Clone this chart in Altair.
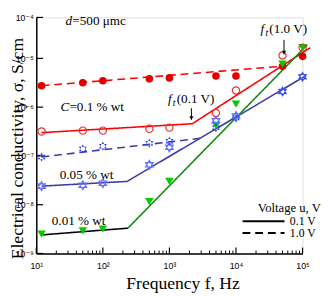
import altair as alt
import pandas as pd

# ---------------- data ----------------
freq = [12, 50, 100, 500, 1000, 5000, 10000, 50000, 100000]

# C = 0.1 % wt
red_1V = [2.75e-6, 3.16e-6, 3.47e-6, 3.8e-6, 3.98e-6, 4.37e-6, 4.37e-6, 6.9e-6, 1.12e-5]
red_01V = [3.16e-7, 3.3e-7, 3.3e-7, 3.6e-7, 3.8e-7, 7.6e-7, 2.2e-6, 1.18e-5, 1.83e-5]
# C = 0.05 % wt
blue_1V = [9.5e-8, 1.38e-7, 1.58e-7, 1.82e-7, 2.0e-7, 3.8e-7, 6.0e-7, 2.1e-6, 4.2e-6]
blue_01V = [2.4e-8, 2.5e-8, 2.75e-8, 6.6e-8, 1.5e-7, 5.25e-7, 6.6e-7, 2.1e-6, 4.2e-6]
# C = 0.01 % wt
green_01V = [2.5e-9, 2.9e-9, 3.16e-9, 1.15e-8, 3.0e-8, 4.2e-7, 1.15e-6, 7.6e-6, 1.83e-5]

# fitted lines (break points)
fit_line = ["red_s", "red_s", "red_s", "red_d", "red_d",
            "blue_s", "blue_s", "blue_s", "blue_d", "blue_d",
            "black", "black", "green", "green"]
fit_volt = ["0.1 V", "0.1 V", "0.1 V", "1.0 V", "1.0 V",
            "0.1 V", "0.1 V", "0.1 V", "1.0 V", "1.0 V",
            "0.1 V", "0.1 V", "0.1 V", "0.1 V"]
fit_f = [12, 2210, 131000, 12, 49000,
         12, 231, 110700, 12, 2900,
         12, 238, 238, 118000]
fit_s = [3.0e-7, 4.57e-7, 1.83e-5, 2.75e-6, 6.9e-6,
         2.4e-8, 3.0e-8, 4.37e-6, 9.5e-8, 2.3e-7,
         2.4e-9, 3.3e-9, 3.3e-9, 2.15e-5]
line_ids = ["red_s", "red_d", "blue_s", "blue_d", "black", "green"]
line_colors = ["#ff0000", "#ff0000", "#3c3ca8", "#3c3ca8", "#000000", "#118a11"]

# annotations
ann_text = ["d", "=500 μmc", "C", "=0.1 % wt", "0.05 % wt", "0.01 % wt",
            "f", "t", "(0.1 V)", "f", "t", "(1.0 V)"]
ann_f = [27.5, 27.5, 23.2, 23.2, 22.5, 17.1, 950, 950, 950, 23400, 23400, 23400]
ann_s = [8.0e-5, 8.0e-5, 1.0e-6, 1.0e-6, 4.0e-8, 4.6e-9,
         1.45e-6, 1.45e-6, 1.45e-6, 5.2e-5, 5.2e-5, 5.2e-5]
ann_style = ["it", "rm", "it", "rm", "rm", "rm", "it", "sub", "rm", "it", "sub", "rm"]
ann_dx = [0, 7, 0, 9, 0, 0, 0, 5, 9, 0, 5, 9]

arrow_f = [2140, 2140, 52700, 52700]
arrow_s = [9.5e-7, 5.5e-7, 2.83e-5, 1.245e-5]
arrow_id = ["a1", "a1", "a2", "a2"]
head_f = [2140, 52700]
head_s = [6.0e-7, 1.39e-5]

x_major = [10, 100, 1000, 10000, 100000]
x_minor = [m * d for d in [10, 100, 1000, 10000] for m in range(2, 10)]
y_major = [1e-9, 1e-8, 1e-7, 1e-6, 1e-5, 1e-4]

# ---------------- tables ----------------
def series(vals):
    return pd.DataFrame({"f": freq, "s": vals})

fit_df = pd.DataFrame({"line": fit_line, "volt": fit_volt, "f": fit_f, "s": fit_s,
                       "k": list(range(len(fit_f)))})
ann_df = pd.DataFrame({"text": ann_text, "f": ann_f, "s": ann_s,
                       "style": ann_style, "dx": ann_dx})
arrow_df = pd.DataFrame({"f": arrow_f, "s": arrow_s, "id": arrow_id})
head_df = pd.DataFrame({"f": head_f, "s": head_s})

W, H = 273, 242
SERIF = "Liberation Serif"
SANS = "Liberation Sans, DejaVu Sans"

xscale = alt.Scale(type="log", domain=[10, 100000], nice=False)
yscale = alt.Scale(type="log", domain=[1e-9, 1e-5, 1e-4], range=[H, 42, 0], nice=False)

xaxis = alt.Axis(
    values=x_major,
    labelExpr="'10' + ['⁰','¹','²','³','⁴','⁵','⁶'][round(log(datum.value)/LN10)]",
    ticks=False, grid=False, domainColor="black", domainWidth=1.5,
    labelFont=SANS, labelFontSize=9, labelColor="black", labelPadding=8,
    labelFlush=False,
    title="Frequency f, Hz", titleFont=SERIF, titleFontSize=18,
    titleFontWeight="normal", titleColor="black",
    titleX=150, titleY=31, titleBaseline="middle", titleAlign="center",
)
yaxis = alt.Axis(
    values=y_major,
    labelExpr="'10⁻' + ['⁰','¹','²','³','⁴','⁵','⁶','⁷','⁸','⁹'][-round(log(datum.value)/LN10)]",
    ticks=False, grid=False, domainColor="black", domainWidth=1.5,
    labelFont=SANS, labelFontSize=9, labelColor="black", labelPadding=3,
    labelFlush=False,
    title="Electrical conductivity, σ, S/cm", titleFont=SERIF, titleFontSize=18,
    titleFontWeight="normal", titleColor="black",
    titleX=-19.5, titleY=134, titleBaseline="middle", titleAlign="center", titleAngle=270,
)

X = alt.X("f:Q", scale=xscale, axis=xaxis)
Y = alt.Y("s:Q", scale=yscale, axis=yaxis)

lines = alt.Chart(fit_df).mark_line(strokeWidth=1.6).encode(
    x=X, y=Y,
    color=alt.Color("line:N", scale=alt.Scale(domain=line_ids, range=line_colors), legend=None),
    strokeDash=alt.StrokeDash(
        "volt:N",
        scale=alt.Scale(domain=["0.1 V", "1.0 V"], range=[[1, 0], [8, 5]]),
        legend=alt.Legend(
            title="Voltage u, V", orient="none", legendX=227, legendY=190,
            symbolType="M-4.3,0H4.3", symbolStrokeColor="black", symbolStrokeWidth=2,
            symbolSize=100, labelFont=SERIF, labelFontSize=12, labelColor="black",
            titleFont=SERIF, titleFontSize=13, titleFontWeight="normal",
            titleColor="black", rowPadding=0, titlePadding=0, labelOffset=21,
        ),
    ),
    detail="line:N",
    order="k:Q",
)

hexagram = "M0,-1L0.866,0.5L-0.866,0.5Z M0,1L0.866,-0.5L-0.866,-0.5Z"

red_f = alt.Chart(series(red_1V)).mark_point(
    shape="circle", filled=True, color="#e00000", size=60, opacity=1).encode(x=X, y=Y)
green = alt.Chart(series(green_01V)).mark_point(
    shape="triangle-down", filled=True, color="#00cc00", size=75, opacity=1).encode(x=X, y=Y)
red_o = alt.Chart(series(red_01V)).mark_point(
    shape="circle", filled=False, color="#e83030", size=55, strokeWidth=1.2, opacity=1).encode(x=X, y=Y)
blue_o = alt.Chart(series(blue_01V)).mark_point(
    shape=hexagram, filled=False, color="#6070ff", size=85, strokeWidth=1.1, opacity=1).encode(x=X, y=Y)
blue_f = alt.Chart(series(blue_1V)).mark_point(
    shape=hexagram, filled=True, color="#2a3cff", size=85, opacity=1).encode(x=X, y=Y)

# axis ticks (inward)
xt_major = alt.Chart(pd.DataFrame({"f": x_major})).mark_rule(color="black", strokeWidth=1.2).encode(
    x=X, y=alt.value(H), y2=alt.value(H - 6))
xt_minor = alt.Chart(pd.DataFrame({"f": x_minor})).mark_rule(color="black", strokeWidth=1).encode(
    x=X, y=alt.value(H), y2=alt.value(H - 3))
yt_major = alt.Chart(pd.DataFrame({"s": y_major})).mark_rule(color="black", strokeWidth=1.2).encode(
    y=Y, x=alt.value(0), x2=alt.value(7))

# annotation texts, one layer per style / horizontal offset
text_layers = []
style_props = {
    "rm": dict(font=SERIF, fontSize=13.5, fontStyle="normal", dy=0),
    "it": dict(font=SERIF, fontSize=13.5, fontStyle="italic", dy=0),
    "sub": dict(font=SERIF, fontSize=10, fontStyle="italic", dy=4),
}
for (st, dxv), grp in ann_df.groupby(["style", "dx"]):
    p = style_props[st]
    text_layers.append(
        alt.Chart(grp.reset_index(drop=True)).mark_text(
            align="left", baseline="middle", color="black", dx=int(dxv), **p
        ).encode(x=X, y=Y, text="text:N")
    )

arrows = alt.Chart(arrow_df).mark_line(color="black", strokeWidth=1).encode(
    x=X, y=Y, detail="id:N")
heads = alt.Chart(head_df).mark_point(
    shape="triangle-down", filled=True, color="black", size=18, opacity=1).encode(x=X, y=Y)

chart = alt.layer(
    lines, red_f, green, red_o, blue_o, blue_f,
    xt_major, xt_minor, yt_major, arrows, heads, *text_layers
).properties(
    width=W, height=H,
    padding={"left": 29, "top": 6, "right": 22, "bottom": 41},
    autosize=alt.AutoSizeParams(type="none"),
).configure_view(stroke=None).configure(background="white")

chart.save("out.html", embed_options={"renderer": "svg", "actions": False})
